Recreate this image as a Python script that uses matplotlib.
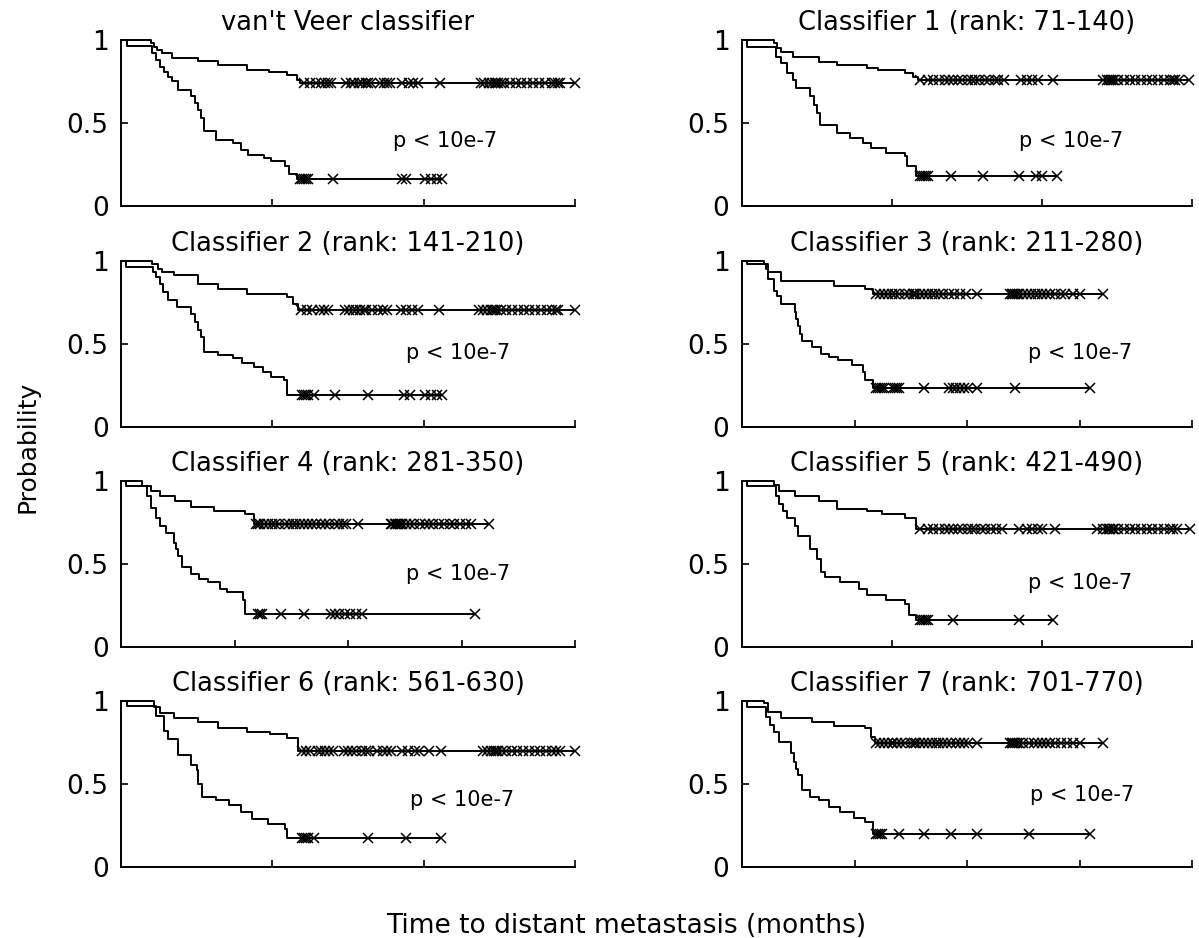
import numpy as np
import matplotlib
matplotlib.use('Agg')
import matplotlib.pyplot as plt

# titoli panela
titles = ["van't Veer classifier", "Classifier 1 (rank: 71-140)",
          "Classifier 2 (rank: 141-210)", "Classifier 3 (rank: 211-280)",
          "Classifier 4 (rank: 281-350)", "Classifier 5 (rank: 421-490)",
          "Classifier 6 (rank: 561-630)", "Classifier 7 (rank: 701-770)"]
p_text = "p < 10e-7"
x_max = [150, 150, 150, 200, 200, 150, 150, 200]

# van't Veer: dobra prognoza (gornja) i losa prognoza (donja krivulja)
up0_t = [10, 11, 12, 13.5, 17, 25.5, 32, 41.5, 49, 55, 58, 59]
up0_s = [0.98, 0.96, 0.94, 0.92, 0.89, 0.875, 0.85, 0.82, 0.81, 0.79, 0.76, 0.74]
up0_c = [60.5, 62.5, 64.5, 66, 67.5, 68.5, 69.5, 74.5, 76, 77, 78.5, 79.5, 81, 81.5, 82.5,
         85.5, 87, 88, 89, 93, 95, 96.5, 98, 105.5, 119, 120, 121.5, 122.5, 123.5, 124,
         124.5, 125.5, 126.5, 128.5, 130.5, 132, 134, 136, 138, 140, 142.5, 143.5, 144.5,
         145, 150]
lo0_t = [2, 10.4, 11.7, 12.9, 14.2, 15.5, 16.8, 18.7, 23.1, 24.4, 25.6, 26.3, 27.5, 31.3,
         37.1, 39.6, 42.1, 47.2, 49.7, 54.2, 55.5, 58]
lo0_s = [0.965, 0.92, 0.88, 0.84, 0.81, 0.78, 0.75, 0.70, 0.66, 0.62, 0.58, 0.53, 0.45,
         0.40, 0.38, 0.34, 0.31, 0.29, 0.27, 0.24, 0.19, 0.16]
lo0_c = [59.3, 59.9, 60.5, 61.2, 61.8, 70, 93, 94.2, 100.5, 102.4, 104.3, 106.2]

# Classifier 1
up1_t = [10.5, 11.8, 13.1, 16.9, 25.8, 31.5, 41.6, 45.4, 54.3, 56.9, 58.8]
up1_s = [0.98, 0.95, 0.93, 0.90, 0.87, 0.85, 0.83, 0.82, 0.80, 0.78, 0.76]
up1_c = [59.4, 61.9, 63.8, 65.7, 67.6, 68.9, 70.2, 72.1, 73.3, 75.3, 76.5, 77.8, 79.1, 81,
         82.3, 84.2, 85.4, 87.3, 93, 94.9, 96.8, 98.7, 103.8, 120.3, 121.6, 122.2, 122.9,
         123.5, 124.1, 125.4, 127.3, 129.2, 131.1, 133, 134.9, 136.8, 138.7, 140.6, 142.5,
         143.8, 144.4, 145.7, 148.9]
lo1_t = [1.6, 11.2, 13.1, 15, 16.9, 18.1, 22.6, 23.9, 25.1, 26.1, 31.5, 35.9, 40.4, 42.9,
         48, 54.3, 54.9, 58.1]
lo1_s = [0.96, 0.90, 0.86, 0.80, 0.76, 0.71, 0.66, 0.61, 0.56, 0.49, 0.44, 0.41, 0.38,
         0.35, 0.32, 0.30, 0.24, 0.18]
lo1_c = [59.4, 60, 60.7, 61.3, 61.9, 69.5, 80.3, 92.4, 98.1, 100, 105.1]

# Classifier 2
up2_t = [10.4, 12.3, 13.6, 17.4, 25.6, 32, 41.5, 54.8, 56.7, 58.4]
up2_s = [0.98, 0.95, 0.93, 0.91, 0.86, 0.83, 0.80, 0.78, 0.74, 0.70]
up2_c = [59.4, 61.3, 63.2, 65.7, 67, 68.3, 74, 75.3, 76.5, 77.8, 79.1, 80.4, 81, 82.9,
         84.8, 86.7, 88, 92.4, 94.3, 96.2, 98.1, 105.1, 118.4, 119.7, 121, 122.2, 122.9,
         123.5, 124.1, 125.4, 127.3, 129.2, 131.1, 133, 134.9, 136.8, 138.7, 140.6, 142.5,
         143.8, 144.4, 150]
lo2_t = [1.5, 10.5, 11.5, 13, 14, 15.5, 18.5, 23, 24.5, 25.5, 26.5, 27.5, 32, 37, 40, 44,
         47, 49.5, 54, 55]
lo2_s = [0.96, 0.93, 0.90, 0.86, 0.81, 0.76, 0.72, 0.68, 0.63, 0.58, 0.54, 0.45, 0.43,
         0.41, 0.38, 0.36, 0.33, 0.30, 0.28, 0.19]
lo2_c = [59.9, 60.5, 61.2, 61.8, 63.7, 70.7, 81.5, 93.5, 95.5, 100.5, 102.4, 104.3, 106.2]

# Classifier 3
up3_t = [9.8, 11.5, 17.4, 41.1, 54.7, 58]
up3_s = [0.976, 0.93, 0.876, 0.846, 0.826, 0.80]
up3_c = [59.7, 61.4, 63.1, 64.8, 66.5, 68.2, 69.9, 72.4, 74.1, 75.8, 76.6, 77.5, 79.1,
         80.8, 82.6, 84.3, 85.9, 87.6, 89.3, 91.9, 94.4, 96.9, 99.5, 104.6, 119, 119.8,
         120.6, 121.5, 122.3, 123.2, 124.9, 126.6, 128.3, 130, 131.6, 133.3, 135, 136.7,
         139.3, 141.8, 143.5, 146.9, 150.3, 160.4]
lo3_t = [2.2, 10.7, 11.5, 14, 15.7, 17.4, 23.4, 24.2, 25, 25.9, 26.7, 31, 35.2, 38.6, 42.8,
         48.7, 53.8, 54.7, 58]
lo3_s = [0.976, 0.946, 0.886, 0.817, 0.787, 0.737, 0.687, 0.647, 0.606, 0.56, 0.518,
         0.478, 0.438, 0.418, 0.398, 0.369, 0.33, 0.279, 0.229]
lo3_c = [59.7, 60.6, 61.4, 62.3, 63.1, 67.3, 68.2, 69, 69.9, 80.9, 91.9, 93.6, 95.3, 97,
         98.6, 100.3, 104.6, 121.5, 154.5]

# Classifier 4
up4_t = [9.1, 13, 17.3, 24, 30.8, 40.9, 54.5, 58.7]
up4_s = [0.966, 0.936, 0.906, 0.876, 0.843, 0.817, 0.797, 0.737]
up4_c = [59.6, 60.4, 61.3, 63, 64.7, 66.3, 68, 69.7, 72.2, 73.9, 75.6, 77.3, 79, 80.7,
         82.4, 84.1, 85.8, 88.3, 90, 91.7, 94.2, 95.9, 97.6, 99.3, 104.4, 118.8, 119.6,
         120.5, 121.3, 122.2, 123, 123.9, 125.6, 127.2, 128.9, 131.5, 134, 135.7, 137.4,
         139.9, 142.5, 145, 146.7, 149.3, 151.8, 154.4, 162]
lo4_t = [2, 11.3, 13, 15.6, 17.3, 19.8, 23.4, 24.2, 25, 26.7, 30.8, 34.2, 38.4, 43.5, 46.9,
         53.6, 54.5]
lo4_s = [0.966, 0.906, 0.837, 0.777, 0.727, 0.687, 0.627, 0.588, 0.548, 0.478, 0.438,
         0.408, 0.388, 0.349, 0.329, 0.279, 0.199]
lo4_c = [60.4, 61.3, 62.1, 70.6, 80.7, 92.6, 94.2, 95.9, 98.5, 101, 103.6, 106.1, 156]

# Classifier 5
up5_t = [10.5, 12.4, 17.5, 25.8, 31.5, 41.6, 46.7, 54.3, 58.1]
up5_s = [0.976, 0.936, 0.91, 0.876, 0.827, 0.817, 0.797, 0.777, 0.711]
up5_c = [59.4, 61.9, 63.8, 65.7, 67.6, 68.9, 70.2, 72.1, 73.3, 75.3, 76.5, 77.8, 79.7, 81,
         82.9, 84.8, 86.7, 92.4, 94.9, 96.8, 98.7, 100, 104.4, 118.4, 120.3, 121.6, 122.2,
         122.8, 123.5, 124.1, 125.4, 127.3, 129.2, 131.1, 133, 134.9, 136.8, 138.7, 140.6,
         142.5, 143.8, 145, 149.2]
lo5_t = [1.6, 11.2, 12.4, 13.7, 15, 17.5, 18.8, 22.6, 25.1, 26.4, 27.7, 32.7, 39.1, 41.6,
         48, 54.3, 55.6, 58.1]
lo5_s = [0.966, 0.906, 0.857, 0.817, 0.777, 0.727, 0.667, 0.588, 0.528, 0.448, 0.418,
         0.388, 0.349, 0.309, 0.279, 0.259, 0.189, 0.159]
lo5_c = [59.4, 60, 60.7, 61.3, 61.9, 70.2, 92.4, 103.8]

# Classifier 6
up6_t = [11, 12.9, 17.4, 25.6, 32, 41.5, 49.1, 54.8, 58.4]
up6_s = [0.96, 0.924, 0.894, 0.873, 0.837, 0.813, 0.799, 0.777, 0.70]
up6_c = [59.9, 61.2, 62.4, 65, 66.2, 67.5, 68.8, 70, 73.8, 75.1, 76.4, 77.6, 79.5, 80.8,
         82.1, 84.6, 86.5, 87.8, 89.1, 92.9, 94.8, 97.3, 98.6, 101.8, 105.6, 119.5, 120.8,
         122.1, 123.3, 124, 124.6, 125.9, 127.2, 129.1, 131, 132.9, 134.8, 136.7, 138.6,
         140.5, 142.4, 143.7, 145, 150]
lo6_t = [1.9, 11.7, 14.2, 15.5, 18.7, 23.1, 25, 25.6, 26.9, 31.3, 35.8, 39.6, 43.4, 48.5,
         54.2, 54.8]
lo6_s = [0.966, 0.91, 0.82, 0.77, 0.67, 0.61, 0.58, 0.50, 0.42, 0.40, 0.37, 0.33, 0.29,
         0.26, 0.23, 0.17]
lo6_c = [59.9, 60.5, 61.2, 61.8, 63.7, 81.5, 94.2, 105.6]

# Classifier 7
up7_t = [9.8, 11.5, 17.4, 31, 41.1, 54.7, 57.2, 58.9]
up7_s = [0.984, 0.934, 0.898, 0.873, 0.847, 0.833, 0.783, 0.743]
up7_c = [59.7, 61.4, 63.1, 64.8, 66.5, 67.3, 69, 70.7, 72.4, 75, 76.6, 77.5, 79.2, 80.9,
         82.6, 84.3, 86, 87.6, 89.3, 91, 92.7, 95.3, 97, 98.6, 100.3, 104.6, 118.9, 119.8,
         120.6, 121.5, 122.3, 123.2, 124.9, 127.4, 129.9, 131.6, 133.3, 135, 136.7, 139.3,
         141.8, 144.3, 146.9, 150.2, 160.4]
lo7_t = [2.2, 10.7, 12.4, 14, 16.6, 21.7, 23.3, 24.2, 25, 26.7, 30.1, 34.3, 38.6, 43.7,
         49.6, 54.7, 58]
lo7_s = [0.964, 0.904, 0.853, 0.813, 0.753, 0.683, 0.633, 0.59, 0.552, 0.462, 0.422,
         0.402, 0.361, 0.331, 0.291, 0.271, 0.20]
lo7_c = [59.7, 60.6, 61.4, 62.3, 69.9, 80.9, 92.7, 104.6, 127.4, 154.5]

panels = [
    (up0_t, up0_s, up0_c, lo0_t, lo0_s, lo0_c),
    (up1_t, up1_s, up1_c, lo1_t, lo1_s, lo1_c),
    (up2_t, up2_s, up2_c, lo2_t, lo2_s, lo2_c),
    (up3_t, up3_s, up3_c, lo3_t, lo3_s, lo3_c),
    (up4_t, up4_s, up4_c, lo4_t, lo4_s, lo4_c),
    (up5_t, up5_s, up5_c, lo5_t, lo5_s, lo5_c),
    (up6_t, up6_s, up6_c, lo6_t, lo6_s, lo6_c),
    (up7_t, up7_s, up7_c, lo7_t, lo7_s, lo7_c),
]

# polozaj teksta p-vrijednosti (udio osi)
p_pos = [(0.60, 0.39), (0.615, 0.39), (0.627, 0.44), (0.635, 0.44),
         (0.627, 0.44), (0.635, 0.385), (0.637, 0.40), (0.64, 0.43)]


def km_curve(ax, t, s, cens):
    x = [0] + list(t) + [max(cens)]
    y = [1] + list(s) + [s[-1]]
    ax.step(x, y, where='post', color='k', lw=1.4, clip_on=False)
    idx = np.searchsorted(t, cens, side='right') - 1
    lev = np.where(idx >= 0, np.array(s)[np.clip(idx, 0, None)], 1.0)
    ax.plot(cens, lev, 'x', color='k', ms=7, mew=1.1, clip_on=False)


W, H = 1199, 938
fig = plt.figure(figsize=(W / 100, H / 100), dpi=100)

lefts = [121 / W, 742 / W]
widths = [454 / W, 450 / W]
bottoms = [1 - 206 / H, 1 - 426.5 / H, 1 - 646.6 / H, 1 - 866.7 / H]
height = 166 / H

for i in range(8):
    row, col = i // 2, i % 2
    ax = fig.add_axes([lefts[col], bottoms[row], widths[col], height])
    ut, us, uc, lt, ls, lc = panels[i]
    km_curve(ax, ut, us, uc)
    km_curve(ax, lt, ls, lc)

    T = x_max[i]
    ax.set_xlim(0, T)
    ax.set_ylim(0, 1)
    ax.set_xticks(np.arange(50, T + 1, 50))
    ax.set_xticklabels([])
    ax.set_yticks([0, 0.5, 1])
    ax.set_yticklabels(['0', '0.5', '1'])
    ax.tick_params(direction='in', length=5, width=1.2, labelsize=19, pad=9)
    for side in ['top', 'right']:
        ax.spines[side].set_visible(False)
    for side in ['left', 'bottom']:
        ax.spines[side].set_linewidth(1.4)
    ax.set_title(titles[i], fontsize=18.5, pad=7)
    ax.text(p_pos[i][0], p_pos[i][1], p_text, transform=ax.transAxes,
            fontsize=15, ha='left', va='center')

fig.text(28 / W, 1 - 447 / H, 'Probability', rotation=90, fontsize=18,
         ha='center', va='center')
fig.text(626 / W, 1 - 933 / H, 'Time to distant metastasis (months)',
         fontsize=19, ha='center', va='baseline')

fig.savefig('out.png', dpi=100)
